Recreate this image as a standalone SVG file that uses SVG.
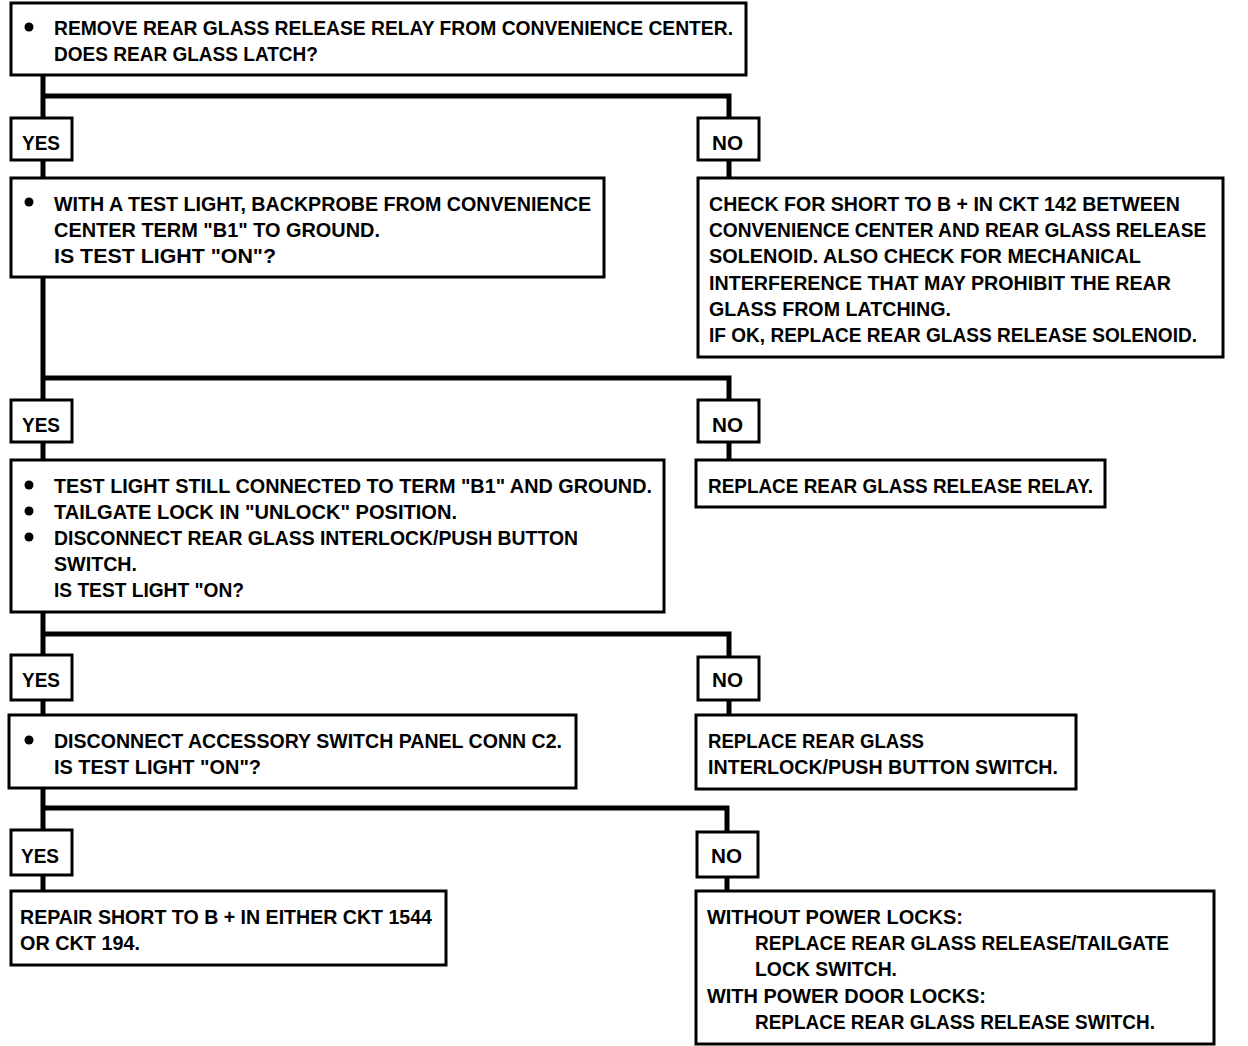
<svg xmlns="http://www.w3.org/2000/svg" width="1248" height="1046" viewBox="0 0 1248 1046">
<style>
.bx{fill:#fff;stroke:#000;stroke-width:3}
.cn{fill:none;stroke:#000;stroke-width:5;stroke-linejoin:miter;stroke-linecap:butt}
text{font-family:"Liberation Sans Narrow","Liberation Sans","DejaVu Sans Condensed",sans-serif;font-weight:bold;font-size:21px;fill:#000}
.bl{fill:#000}
</style>
<rect width="1248" height="1046" fill="#fff"/>
<g id="connectors">
<path class="cn" d="M43 75 V118 M43 96 H729 V118"/>
<path class="cn" d="M43 160 V178 M729 160 V178"/>
<path class="cn" d="M43 277 V400 M43 378 H729 V400"/>
<path class="cn" d="M43 442 V460 M729 442 V460"/>
<path class="cn" d="M43 612 V655 M43 634 H729 V657"/>
<path class="cn" d="M43 700 V715 M729 700 V715"/>
<path class="cn" d="M43 788 V830 M43 808 H727 V832"/>
<path class="cn" d="M43 875 V891 M727 877 V891"/>
</g>
<g id="q1">
<rect class="bx" x="11" y="3" width="735" height="72"/>
<circle class="bl" cx="29" cy="27" r="4.5"/>
<text x="54" y="35" textLength="679" lengthAdjust="spacingAndGlyphs">REMOVE REAR GLASS RELEASE RELAY FROM CONVENIENCE CENTER.</text>
<text x="54" y="61" textLength="264" lengthAdjust="spacingAndGlyphs">DOES REAR GLASS LATCH?</text>
</g>
<g id="yes1"><rect class="bx" x="11" y="118" width="61" height="42"/><text x="22" y="150" textLength="38" lengthAdjust="spacingAndGlyphs">YES</text></g>
<g id="no1"><rect class="bx" x="698" y="118" width="61" height="42"/><text x="712" y="150" textLength="31" lengthAdjust="spacingAndGlyphs">NO</text></g>
<g id="q2">
<rect class="bx" x="11" y="178" width="593" height="99"/>
<circle class="bl" cx="29" cy="202" r="4.5"/>
<text x="54" y="211" textLength="537" lengthAdjust="spacingAndGlyphs">WITH A TEST LIGHT, BACKPROBE FROM CONVENIENCE</text>
<text x="54" y="237" textLength="326" lengthAdjust="spacingAndGlyphs">CENTER TERM "B1" TO GROUND.</text>
<text x="54" y="263" textLength="222" lengthAdjust="spacingAndGlyphs">IS TEST LIGHT "ON"?</text>
</g>
<g id="r1">
<rect class="bx" x="698" y="178" width="525" height="179"/>
<text x="709" y="211" textLength="471" lengthAdjust="spacingAndGlyphs">CHECK FOR SHORT TO B +  IN CKT 142 BETWEEN</text>
<text transform="translate(709 237) scale(0.88 1)" x="0" y="0" textLength="565" lengthAdjust="spacingAndGlyphs">CONVENIENCE CENTER AND REAR GLASS RELEASE</text>
<text x="709" y="263" textLength="432" lengthAdjust="spacingAndGlyphs">SOLENOID.  ALSO CHECK FOR MECHANICAL</text>
<text x="709" y="290" textLength="462" lengthAdjust="spacingAndGlyphs">INTERFERENCE THAT MAY PROHIBIT THE REAR</text>
<text x="709" y="316" textLength="242" lengthAdjust="spacingAndGlyphs">GLASS FROM LATCHING.</text>
<text x="709" y="342" textLength="488" lengthAdjust="spacingAndGlyphs">IF OK, REPLACE REAR GLASS RELEASE SOLENOID.</text>
</g>
<g id="yes2"><rect class="bx" x="11" y="400" width="61" height="42"/><text x="22" y="432" textLength="38" lengthAdjust="spacingAndGlyphs">YES</text></g>
<g id="no2"><rect class="bx" x="698" y="400" width="61" height="42"/><text x="712" y="432" textLength="31" lengthAdjust="spacingAndGlyphs">NO</text></g>
<g id="q3">
<rect class="bx" x="11" y="460" width="653" height="152"/>
<circle class="bl" cx="29" cy="485" r="4.5"/>
<circle class="bl" cx="29" cy="511" r="4.5"/>
<circle class="bl" cx="29" cy="537" r="4.5"/>
<text x="54" y="493" textLength="598" lengthAdjust="spacingAndGlyphs">TEST LIGHT STILL CONNECTED TO TERM "B1" AND GROUND.</text>
<text x="54" y="519" textLength="403" lengthAdjust="spacingAndGlyphs">TAILGATE LOCK IN "UNLOCK" POSITION.</text>
<text x="54" y="545" textLength="524" lengthAdjust="spacingAndGlyphs">DISCONNECT REAR GLASS INTERLOCK/PUSH BUTTON</text>
<text x="54" y="571" textLength="83" lengthAdjust="spacingAndGlyphs">SWITCH.</text>
<text x="54" y="597" textLength="190" lengthAdjust="spacingAndGlyphs">IS TEST LIGHT "ON?</text>
</g>
<g id="r2">
<rect class="bx" x="696" y="460" width="409" height="47"/>
<text x="708" y="493" textLength="385" lengthAdjust="spacingAndGlyphs">REPLACE REAR GLASS RELEASE RELAY.</text>
</g>
<g id="yes3"><rect class="bx" x="11" y="655" width="61" height="45"/><text x="22" y="687" textLength="38" lengthAdjust="spacingAndGlyphs">YES</text></g>
<g id="no3"><rect class="bx" x="698" y="657" width="61" height="43"/><text x="712" y="687" textLength="31" lengthAdjust="spacingAndGlyphs">NO</text></g>
<g id="q4">
<rect class="bx" x="9" y="715" width="567" height="73"/>
<circle class="bl" cx="29" cy="740" r="4.5"/>
<text x="54" y="748" textLength="508" lengthAdjust="spacingAndGlyphs">DISCONNECT ACCESSORY SWITCH PANEL CONN C2.</text>
<text x="54" y="774" textLength="207" lengthAdjust="spacingAndGlyphs">IS TEST LIGHT "ON"?</text>
</g>
<g id="r3">
<rect class="bx" x="696" y="715" width="380" height="74"/>
<text x="708" y="748" textLength="216" lengthAdjust="spacingAndGlyphs">REPLACE REAR GLASS</text>
<text x="708" y="774" textLength="350" lengthAdjust="spacingAndGlyphs">INTERLOCK/PUSH BUTTON SWITCH.</text>
</g>
<g id="yes4"><rect class="bx" x="11" y="830" width="61" height="45"/><text x="21" y="863" textLength="38" lengthAdjust="spacingAndGlyphs">YES</text></g>
<g id="no4"><rect class="bx" x="697" y="832" width="61" height="45"/><text x="711" y="863" textLength="31" lengthAdjust="spacingAndGlyphs">NO</text></g>
<g id="r4a">
<rect class="bx" x="11" y="891" width="435" height="74"/>
<text x="20" y="924" textLength="412" lengthAdjust="spacingAndGlyphs">REPAIR SHORT TO B +  IN EITHER CKT 1544</text>
<text x="20" y="950" textLength="120" lengthAdjust="spacingAndGlyphs">OR CKT 194.</text>
</g>
<g id="r4b">
<rect class="bx" x="696" y="891" width="518" height="153"/>
<text x="707" y="924" textLength="256" lengthAdjust="spacingAndGlyphs">WITHOUT POWER LOCKS:</text>
<text x="755" y="950" textLength="414" lengthAdjust="spacingAndGlyphs">REPLACE REAR GLASS RELEASE/TAILGATE</text>
<text x="755" y="976" textLength="142" lengthAdjust="spacingAndGlyphs">LOCK SWITCH.</text>
<text x="707" y="1003" textLength="279" lengthAdjust="spacingAndGlyphs">WITH POWER DOOR LOCKS:</text>
<text x="755" y="1029" textLength="400" lengthAdjust="spacingAndGlyphs">REPLACE REAR GLASS RELEASE SWITCH.</text>
</g>
</svg>
